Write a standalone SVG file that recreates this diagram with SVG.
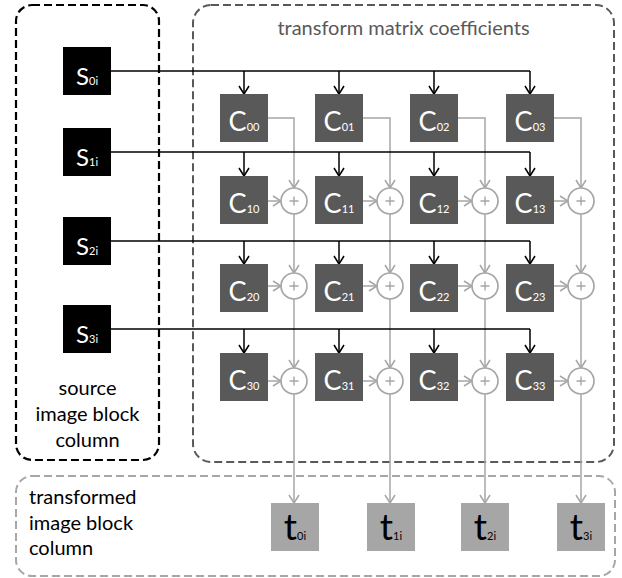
<svg xmlns="http://www.w3.org/2000/svg" width="622" height="578" viewBox="0 0 622 578">
<style>
.lbl{font-family:Lato,"Liberation Sans",sans-serif}
.s rect{fill:#000}
.c rect{fill:#595959}
.t rect{fill:#a6a6a6}
.s text,.c text{fill:#fff;font-family:Lato,"Liberation Sans",sans-serif;text-anchor:middle}
.t text{fill:#000;font-family:Lato,"Liberation Sans",sans-serif;text-anchor:middle}
.big{font-size:27px}
.sbig{font-size:24px}
.tbig{font-size:37px}
.sub{font-size:11px}
.plus circle{fill:#fff;stroke:#a6a6a6;stroke-width:1.7}
.plus path{stroke:#a6a6a6;stroke-width:1.4;fill:none}
.bk{stroke:#000;stroke-width:1.5;fill:none}
.bka{stroke:#000;stroke-width:1.5;fill:none;marker-end:url(#ab)}
.gra{stroke:#a6a6a6;stroke-width:1.5;fill:none;marker-end:url(#ag)}
</style>
<defs>
<marker id="ab" markerUnits="userSpaceOnUse" markerWidth="12" markerHeight="12" refX="9" refY="5" orient="auto" overflow="visible">
<path d="M1,0 L9,5 L1,10" fill="none" stroke="#000" stroke-width="1.5"/>
</marker>
<marker id="ag" markerUnits="userSpaceOnUse" markerWidth="12" markerHeight="12" refX="9" refY="5" orient="auto" overflow="visible">
<path d="M1,0 L9,5 L1,10" fill="none" stroke="#a6a6a6" stroke-width="1.5"/>
</marker>
</defs>
<rect width="622" height="578" fill="#fff"/>

<g id="group-source">
<rect x="16" y="5" width="143" height="455" rx="16" fill="none" stroke="#000" stroke-width="2.2" stroke-dasharray="8,4"/>
<text class="lbl" font-size="20" fill="#000" text-anchor="middle"><tspan x="87.5" y="395">source</tspan><tspan x="87.5" y="421">image block</tspan><tspan x="87.5" y="447">column</tspan></text>
</g>
<g id="group-coeff">
<rect x="193" y="5" width="421" height="457" rx="18" fill="none" stroke="#595959" stroke-width="2" stroke-dasharray="8,4"/>
<text class="lbl" x="403.5" y="35" font-size="20" fill="#595959" text-anchor="middle">transform matrix coefficients</text>
</g>
<g id="group-transformed">
<rect x="16" y="476" width="599" height="100" rx="16" fill="none" stroke="#a6a6a6" stroke-width="2" stroke-dasharray="8,4"/>
<text class="lbl" font-size="20" fill="#000"><tspan x="29" y="504">transformed</tspan><tspan x="29" y="530">image block</tspan><tspan x="29" y="555">column</tspan></text>
</g>

<g id="connectors">
<g id="gray-paths">
<path class="gra" d="M268,118 H294 V188"/>
<path class="gra" d="M363,118 H390 V188"/>
<path class="gra" d="M458,118 H485 V188"/>
<path class="gra" d="M554,118 H581 V188"/>
<path class="gra" d="M294,214 V273"/>
<path class="gra" d="M390,214 V273"/>
<path class="gra" d="M485,214 V273"/>
<path class="gra" d="M581,214 V273"/>
<path class="gra" d="M294,299 V368"/>
<path class="gra" d="M390,299 V368"/>
<path class="gra" d="M485,299 V368"/>
<path class="gra" d="M581,299 V368"/>
<path class="gra" d="M294,394 V503"/>
<path class="gra" d="M390,394 V503"/>
<path class="gra" d="M485,394 V503"/>
<path class="gra" d="M581,394 V503"/>
<path class="gra" d="M268,201 H281"/>
<path class="gra" d="M363,201 H377"/>
<path class="gra" d="M458,201 H472"/>
<path class="gra" d="M554,201 H568"/>
<path class="gra" d="M268,286 H281"/>
<path class="gra" d="M363,286 H377"/>
<path class="gra" d="M458,286 H472"/>
<path class="gra" d="M554,286 H568"/>
<path class="gra" d="M268,381 H281"/>
<path class="gra" d="M363,381 H377"/>
<path class="gra" d="M458,381 H472"/>
<path class="gra" d="M554,381 H568"/>
</g>
<g id="black-paths">
<path class="bk" d="M111,71 H530"/>
<path class="bk" d="M111,152 H530"/>
<path class="bk" d="M111,241 H530"/>
<path class="bk" d="M111,329 H530"/>
<path class="bka" d="M244,71 V94"/><path class="bka" d="M339,71 V94"/><path class="bka" d="M434,71 V94"/><path class="bka" d="M530,71 V94"/>
<path class="bka" d="M244,152 V176"/><path class="bka" d="M339,152 V176"/><path class="bka" d="M434,152 V176"/><path class="bka" d="M530,152 V176"/>
<path class="bka" d="M244,241 V264"/><path class="bka" d="M339,241 V264"/><path class="bka" d="M434,241 V264"/><path class="bka" d="M530,241 V264"/>
<path class="bka" d="M244,329 V353"/><path class="bka" d="M339,329 V353"/><path class="bka" d="M434,329 V353"/><path class="bka" d="M530,329 V353"/>
</g>
</g>

<g id="s0" class="s"><rect x="63" y="47" width="48" height="48"/><text x="87" y="85"><tspan class="sbig">S</tspan><tspan class="sub">0i</tspan></text></g>
<g id="s1" class="s"><rect x="63" y="128" width="48" height="48"/><text x="87" y="166"><tspan class="sbig">S</tspan><tspan class="sub">1i</tspan></text></g>
<g id="s2" class="s"><rect x="63" y="217" width="48" height="48"/><text x="87" y="255"><tspan class="sbig">S</tspan><tspan class="sub">2i</tspan></text></g>
<g id="s3" class="s"><rect x="63" y="305" width="48" height="48"/><text x="87" y="343"><tspan class="sbig">S</tspan><tspan class="sub">3i</tspan></text></g>

<g id="c00" class="c"><rect x="220" y="94" width="48" height="48"/><text x="244" y="131"><tspan class="big">C</tspan><tspan class="sub">00</tspan></text></g>
<g id="c01" class="c"><rect x="315" y="94" width="48" height="48"/><text x="339" y="131"><tspan class="big">C</tspan><tspan class="sub">01</tspan></text></g>
<g id="c02" class="c"><rect x="410" y="94" width="48" height="48"/><text x="434" y="131"><tspan class="big">C</tspan><tspan class="sub">02</tspan></text></g>
<g id="c03" class="c"><rect x="506" y="94" width="48" height="48"/><text x="530" y="131"><tspan class="big">C</tspan><tspan class="sub">03</tspan></text></g>

<g id="c10" class="c"><rect x="220" y="176" width="48" height="48"/><text x="244" y="213"><tspan class="big">C</tspan><tspan class="sub">10</tspan></text></g>
<g id="c11" class="c"><rect x="315" y="176" width="48" height="48"/><text x="339" y="213"><tspan class="big">C</tspan><tspan class="sub">11</tspan></text></g>
<g id="c12" class="c"><rect x="410" y="176" width="48" height="48"/><text x="434" y="213"><tspan class="big">C</tspan><tspan class="sub">12</tspan></text></g>
<g id="c13" class="c"><rect x="506" y="176" width="48" height="48"/><text x="530" y="213"><tspan class="big">C</tspan><tspan class="sub">13</tspan></text></g>

<g id="c20" class="c"><rect x="220" y="264" width="48" height="48"/><text x="244" y="301"><tspan class="big">C</tspan><tspan class="sub">20</tspan></text></g>
<g id="c21" class="c"><rect x="315" y="264" width="48" height="48"/><text x="339" y="301"><tspan class="big">C</tspan><tspan class="sub">21</tspan></text></g>
<g id="c22" class="c"><rect x="410" y="264" width="48" height="48"/><text x="434" y="301"><tspan class="big">C</tspan><tspan class="sub">22</tspan></text></g>
<g id="c23" class="c"><rect x="506" y="264" width="48" height="48"/><text x="530" y="301"><tspan class="big">C</tspan><tspan class="sub">23</tspan></text></g>

<g id="c30" class="c"><rect x="220" y="353" width="48" height="48"/><text x="244" y="390"><tspan class="big">C</tspan><tspan class="sub">30</tspan></text></g>
<g id="c31" class="c"><rect x="315" y="353" width="48" height="48"/><text x="339" y="390"><tspan class="big">C</tspan><tspan class="sub">31</tspan></text></g>
<g id="c32" class="c"><rect x="410" y="353" width="48" height="48"/><text x="434" y="390"><tspan class="big">C</tspan><tspan class="sub">32</tspan></text></g>
<g id="c33" class="c"><rect x="506" y="353" width="48" height="48"/><text x="530" y="390"><tspan class="big">C</tspan><tspan class="sub">33</tspan></text></g>

<g id="p10" class="plus"><circle cx="294" cy="201" r="13"/><path d="M289.5,201 h9 M294,196.5 v9"/></g>
<g id="p11" class="plus"><circle cx="390" cy="201" r="13"/><path d="M385.5,201 h9 M390,196.5 v9"/></g>
<g id="p12" class="plus"><circle cx="485" cy="201" r="13"/><path d="M480.5,201 h9 M485,196.5 v9"/></g>
<g id="p13" class="plus"><circle cx="581" cy="201" r="13"/><path d="M576.5,201 h9 M581,196.5 v9"/></g>
<g id="p20" class="plus"><circle cx="294" cy="286" r="13"/><path d="M289.5,286 h9 M294,281.5 v9"/></g>
<g id="p21" class="plus"><circle cx="390" cy="286" r="13"/><path d="M385.5,286 h9 M390,281.5 v9"/></g>
<g id="p22" class="plus"><circle cx="485" cy="286" r="13"/><path d="M480.5,286 h9 M485,281.5 v9"/></g>
<g id="p23" class="plus"><circle cx="581" cy="286" r="13"/><path d="M576.5,286 h9 M581,281.5 v9"/></g>
<g id="p30" class="plus"><circle cx="294" cy="381" r="13"/><path d="M289.5,381 h9 M294,376.5 v9"/></g>
<g id="p31" class="plus"><circle cx="390" cy="381" r="13"/><path d="M385.5,381 h9 M390,376.5 v9"/></g>
<g id="p32" class="plus"><circle cx="485" cy="381" r="13"/><path d="M480.5,381 h9 M485,376.5 v9"/></g>
<g id="p33" class="plus"><circle cx="581" cy="381" r="13"/><path d="M576.5,381 h9 M581,376.5 v9"/></g>

<g id="t0" class="t"><rect x="271" y="503" width="48" height="48"/><text x="295" y="540"><tspan class="tbig">t</tspan><tspan class="sub">0i</tspan></text></g>
<g id="t1" class="t"><rect x="367" y="503" width="48" height="48"/><text x="391" y="540"><tspan class="tbig">t</tspan><tspan class="sub">1i</tspan></text></g>
<g id="t2" class="t"><rect x="461" y="503" width="48" height="48"/><text x="485" y="540"><tspan class="tbig">t</tspan><tspan class="sub">2i</tspan></text></g>
<g id="t3" class="t"><rect x="557" y="503" width="48" height="48"/><text x="581" y="540"><tspan class="tbig">t</tspan><tspan class="sub">3i</tspan></text></g>
</svg>
